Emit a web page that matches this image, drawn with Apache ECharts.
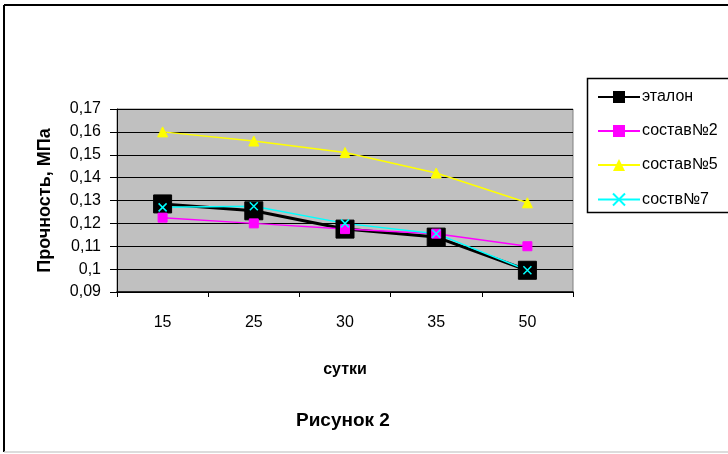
<!DOCTYPE html>
<html>
<head>
<meta charset="utf-8">
<script src="https://cdn.jsdelivr.net/npm/echarts@6/dist/echarts.min.js"></script>
<style>
  html, body { margin: 0; padding: 0; background: #ffffff; }
  #chart { width: 728px; height: 454px; }
</style>
</head>
<body>
<div id="chart"></div>
<script>
// Categories (days) and strength values, MPa
const days = ['15', '25', '30', '35', '50'];
const etalon = [0.1285, 0.1255, 0.1175, 0.114, 0.0995];
const sostav2 = [0.1225, 0.12, 0.1175, 0.1155, 0.11];
const sostav5 = [0.16, 0.156, 0.151, 0.142, 0.129];
const sostav7 = [0.127, 0.1275, 0.12, 0.1155, 0.0995];
const yTickLabels = ['0,09', '0,1', '0,11', '0,12', '0,13', '0,14', '0,15', '0,16', '0,17'];

const FONT = '"Liberation Sans Narrow", "Liberation Sans", Arial, sans-serif';
const chart = echarts.init(document.getElementById('chart'), null, { renderer: 'canvas' });

const crossPath = 'path://M0,0L10,10M10,0L0,10';

chart.setOption({
  animation: false,
  backgroundColor: '#ffffff',
  textStyle: { fontFamily: FONT },
  grid: {
    left: 117, top: 109, width: 456, height: 183,
    show: true, backgroundColor: '#c0c0c0', borderColor: '#808080', borderWidth: 1
  },
  legend: {
    orient: 'vertical',
    left: 592, top: 84,
    itemWidth: 42, itemHeight: 15, itemGap: 18,
    textStyle: { fontFamily: FONT, fontSize: 16, color: '#000', padding: [0, 0, 0, -3] },
    data: ['эталон', 'состав№2', 'состав№5', 'соств№7']
  },
  xAxis: {
    type: 'category',
    data: days,
    boundaryGap: true,
    name: 'сутки',
    nameLocation: 'middle',
    nameGap: 70,
    nameTextStyle: { fontFamily: FONT, fontSize: 16, fontWeight: 'bold', color: '#000' },
    axisLine: { lineStyle: { color: '#000', width: 1.5 } },
    axisTick: { show: true, length: 5, lineStyle: { color: '#000' } },
    axisLabel: { margin: 23, fontFamily: FONT, fontSize: 16, color: '#000' },
    splitLine: { show: false }
  },
  yAxis: {
    type: 'value',
    min: 0.09, max: 0.17, interval: 0.01,
    name: 'Прочность, МПа',
    nameLocation: 'middle',
    nameGap: 63,
    nameRotate: 90,
    nameTextStyle: { fontFamily: FONT, fontSize: 18, fontWeight: 'bold', color: '#000' },
    axisLine: { show: true, lineStyle: { color: '#000', width: 1 } },
    axisTick: { show: true, length: 7, lineStyle: { color: '#000' } },
    axisLabel: {
      margin: 16, fontFamily: FONT, fontSize: 16, color: '#000',
      formatter: v => yTickLabels[Math.round((v - 0.09) / 0.01)]
    },
    splitLine: { show: true, lineStyle: { color: '#000', width: 1 } }
  },
  series: [
    {
      name: 'эталон', type: 'line', data: etalon,
      symbol: 'rect', symbolSize: 18,
      lineStyle: { color: '#000', width: 3 },
      itemStyle: { color: '#000', borderColor: '#000' }
    },
    {
      name: 'состав№2', type: 'line', data: sostav2,
      symbol: 'rect', symbolSize: 9,
      lineStyle: { color: '#ff00ff', width: 1.5 },
      itemStyle: { color: '#ff00ff', borderColor: '#ff00ff' }
    },
    {
      name: 'состав№5', type: 'line', data: sostav5,
      symbol: 'triangle', symbolSize: 10,
      lineStyle: { color: '#ffff00', width: 1.5 },
      itemStyle: { color: '#ffff00', borderColor: '#ffff00' }
    },
    {
      name: 'соств№7', type: 'line', data: sostav7,
      symbol: crossPath, symbolSize: 8,
      lineStyle: { color: '#00ffff', width: 1.5 },
      itemStyle: { color: 'none', borderColor: '#00ffff', borderWidth: 1.5 }
    }
  ],
  graphic: [
    // outer chart frame
    { type: 'line', shape: { x1: 4, y1: 5, x2: 4, y2: 452 }, style: { stroke: '#000', lineWidth: 2 } },
    { type: 'line', shape: { x1: 4, y1: 5, x2: 728, y2: 5 }, style: { stroke: '#000', lineWidth: 2 } },
    { type: 'line', shape: { x1: 4, y1: 452, x2: 728, y2: 452 }, style: { stroke: '#d0d0d0', lineWidth: 1.5 } },
    // legend frame
    { type: 'rect', shape: { x: 587.5, y: 78.5, width: 200, height: 134 }, style: { fill: 'none', stroke: '#000', lineWidth: 1.5 }, z: 10 },
    // caption
    {
      type: 'text', left: 296, top: 411,
      style: { text: 'Рисунок 2', fontFamily: FONT, fontSize: 19, fontWeight: 'bold', fill: '#000' }
    }
  ]
});
</script>
</body>
</html>
